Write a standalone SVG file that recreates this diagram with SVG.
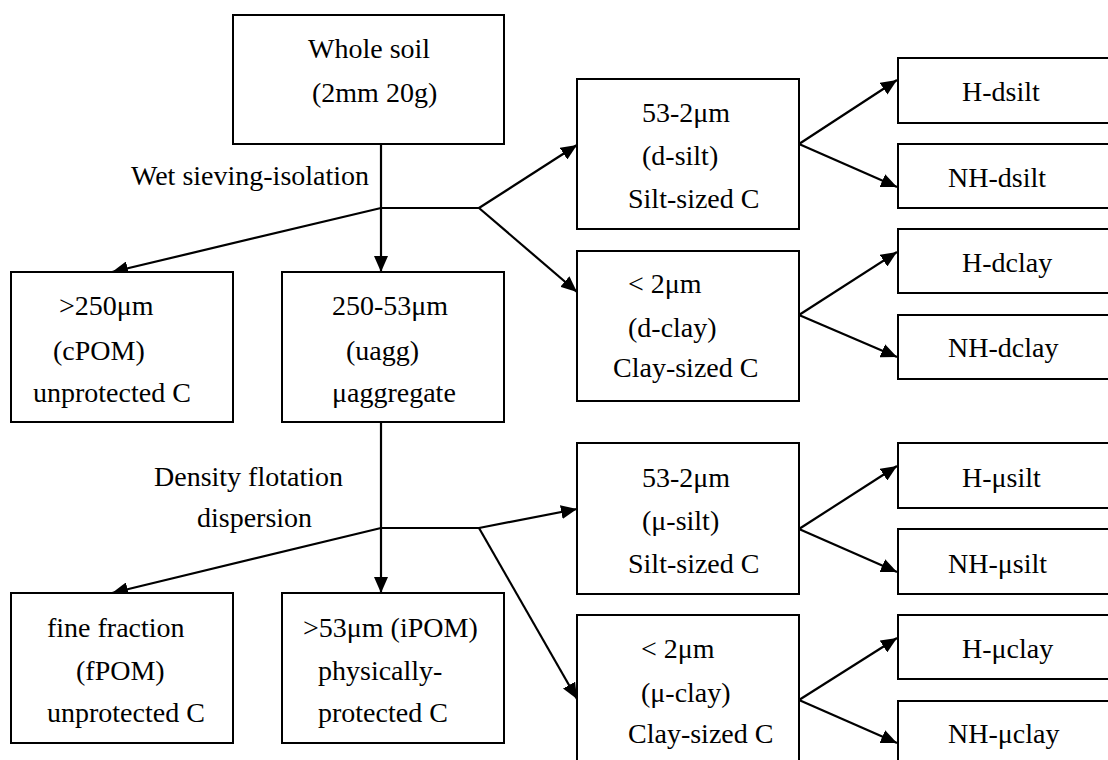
<svg xmlns="http://www.w3.org/2000/svg" width="1108" height="760" viewBox="0 0 1108 760">
<style>
.box{fill:#fff;stroke:#000;stroke-width:2}
.t{font-size:28px;fill:#000}
.c{stroke:#000;stroke-width:2.2;fill:none}
</style>
<defs>
<marker id="ah" markerUnits="userSpaceOnUse" markerWidth="16" markerHeight="14" refX="16" refY="7" orient="auto">
<path d="M0,0 L16,7 L0,14 z" fill="#000"/>
</marker>
</defs>
<rect width="1108" height="760" fill="#fff"/>
<g id="connectors">
<line class="c" x1="381" y1="144" x2="381" y2="272" marker-end="url(#ah)"/>
<line class="c" x1="381" y1="208" x2="479" y2="208"/>
<line class="c" x1="381" y1="208" x2="112" y2="272" marker-end="url(#ah)"/>
<line class="c" x1="479" y1="208" x2="577" y2="145" marker-end="url(#ah)"/>
<line class="c" x1="479" y1="208" x2="577" y2="292" marker-end="url(#ah)"/>
<line class="c" x1="381" y1="422" x2="381" y2="593" marker-end="url(#ah)"/>
<line class="c" x1="381" y1="528" x2="479" y2="528"/>
<line class="c" x1="381" y1="528" x2="112" y2="593" marker-end="url(#ah)"/>
<line class="c" x1="479" y1="528" x2="577" y2="509" marker-end="url(#ah)"/>
<line class="c" x1="479" y1="528" x2="577" y2="699" marker-end="url(#ah)"/>
<line class="c" x1="799" y1="144" x2="897" y2="80" marker-end="url(#ah)"/>
<line class="c" x1="799" y1="144" x2="897" y2="187" marker-end="url(#ah)"/>
<line class="c" x1="799" y1="315" x2="897" y2="252" marker-end="url(#ah)"/>
<line class="c" x1="799" y1="315" x2="897" y2="357" marker-end="url(#ah)"/>
<line class="c" x1="799" y1="529" x2="897" y2="466" marker-end="url(#ah)"/>
<line class="c" x1="799" y1="529" x2="897" y2="572" marker-end="url(#ah)"/>
<line class="c" x1="799" y1="700" x2="897" y2="638" marker-end="url(#ah)"/>
<line class="c" x1="799" y1="700" x2="897" y2="743" marker-end="url(#ah)"/>
</g>
<g font-family="'Liberation Serif', 'Times New Roman', 'DejaVu Serif', serif">
<g id="labels">
<text class="t" x="131" y="185">Wet sieving-isolation</text>
<text class="t" x="154" y="486">Density flotation</text>
<text class="t" x="197" y="527">dispersion</text>
</g>
<g id="whole-soil">
<rect class="box" x="233" y="15" width="271" height="129"/>
<text class="t" x="308" y="58">Whole soil</text>
<text class="t" x="312" y="102">(2mm 20g)</text>
</g>
<g id="cpom">
<rect class="box" x="11" y="272" width="222" height="150"/>
<text class="t" x="59" y="315">&gt;250μm</text>
<text class="t" x="53" y="360">(cPOM)</text>
<text class="t" x="33" y="402">unprotected C</text>
</g>
<g id="uagg">
<rect class="box" x="282" y="272" width="222" height="150"/>
<text class="t" x="332" y="315">250-53μm</text>
<text class="t" x="346" y="360">(uagg)</text>
<text class="t" x="332" y="402">μaggregate</text>
</g>
<g id="fpom">
<rect class="box" x="11" y="593" width="222" height="150"/>
<text class="t" x="47" y="637">fine fraction</text>
<text class="t" x="76" y="680">(fPOM)</text>
<text class="t" x="47" y="722">unprotected C</text>
</g>
<g id="ipom">
<rect class="box" x="282" y="593" width="222" height="150"/>
<text class="t" x="303" y="637">&gt;53μm (iPOM)</text>
<text class="t" x="318" y="680">physically-</text>
<text class="t" x="318" y="722">protected C</text>
</g>
<g id="d-silt">
<rect class="box" x="577" y="79" width="222" height="150"/>
<text class="t" x="642" y="122">53-2μm</text>
<text class="t" x="642" y="165">(d-silt)</text>
<text class="t" x="628" y="208">Silt-sized C</text>
</g>
<g id="d-clay">
<rect class="box" x="577" y="251" width="222" height="150"/>
<text class="t" x="628" y="293">&lt; 2μm</text>
<text class="t" x="628" y="337">(d-clay)</text>
<text class="t" x="613" y="377">Clay-sized C</text>
</g>
<g id="mu-silt">
<rect class="box" x="577" y="443" width="222" height="151"/>
<text class="t" x="642" y="487">53-2μm</text>
<text class="t" x="642" y="530">(μ-silt)</text>
<text class="t" x="628" y="573">Silt-sized C</text>
</g>
<g id="mu-clay">
<rect class="box" x="577" y="615" width="222" height="160"/>
<text class="t" x="641" y="658">&lt; 2μm</text>
<text class="t" x="641" y="702">(μ-clay)</text>
<text class="t" x="628" y="743">Clay-sized C</text>
</g>
<g id="h-dsilt">
<rect class="box" x="898" y="58" width="230" height="65"/>
<text class="t" x="962" y="101">H-dsilt</text>
</g>
<g id="nh-dsilt">
<rect class="box" x="898" y="144" width="230" height="64"/>
<text class="t" x="948" y="187">NH-dsilt</text>
</g>
<g id="h-dclay">
<rect class="box" x="898" y="229" width="230" height="64"/>
<text class="t" x="962" y="272">H-dclay</text>
</g>
<g id="nh-dclay">
<rect class="box" x="898" y="315" width="230" height="64"/>
<text class="t" x="948" y="357">NH-dclay</text>
</g>
<g id="h-musilt">
<rect class="box" x="898" y="443" width="230" height="65"/>
<text class="t" x="962" y="487">H-μsilt</text>
</g>
<g id="nh-musilt">
<rect class="box" x="898" y="529" width="230" height="65"/>
<text class="t" x="948" y="573">NH-μsilt</text>
</g>
<g id="h-muclay">
<rect class="box" x="898" y="615" width="230" height="64"/>
<text class="t" x="962" y="658">H-μclay</text>
</g>
<g id="nh-muclay">
<rect class="box" x="898" y="701" width="230" height="80"/>
<text class="t" x="948" y="743">NH-μclay</text>
</g>
</g>
</svg>
